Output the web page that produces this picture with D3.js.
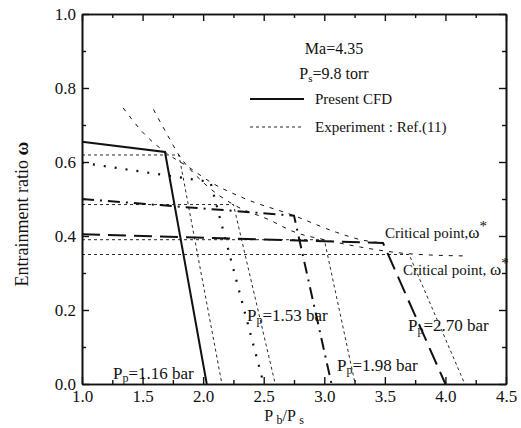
<!DOCTYPE html>
<html><head><meta charset="utf-8">
<script src="https://cdn.jsdelivr.net/npm/d3@7"></script>
<style>body{margin:0;background:#fff} svg{display:block}</style>
</head>
<body><svg id="c" width="521" height="428"></svg>
<script>
// ---- data ----
const X_TICKS = [1.0, 1.5, 2.0, 2.5, 3.0, 3.5, 4.0, 4.5];
const X_MINOR = [1.25, 1.75, 2.25, 2.75, 3.25, 3.75, 4.25];
const Y_TICKS = [0.0, 0.2, 0.4, 0.6, 0.8, 1.0];
const Y_MINOR = [0.1, 0.3, 0.5, 0.7, 0.9];

// Present CFD curves [Pb/Ps, omega]
const cfd116 = [[1.0, 0.655], [1.685, 0.627], [2.03, 0.0]];
const cfd153 = [[1.0, 0.598], [2.06, 0.546], [2.50, 0.0]];
const cfd198 = [[1.0, 0.500], [2.75, 0.455], [3.06, 0.0]];
const cfd270 = [[1.0, 0.405], [3.485, 0.381], [4.00, 0.0]];

// Experiment Ref.(11)
const exp116 = [[1.0, 0.619], [1.80, 0.619], [2.155, 0.0]];
const exp153 = [[1.0, 0.485], [2.25, 0.485], [2.595, 0.0]];
const exp198 = [[1.0, 0.390], [3.00, 0.390], [3.255, 0.0]];
const exp270 = [[1.0, 0.350], [3.70, 0.350], [4.16, 0.0]];

// critical point lines
const critCfd = [[1.34, 0.746], [1.50, 0.681], [1.685, 0.627], [1.89, 0.584], [2.06, 0.546],
                 [2.33, 0.503], [2.75, 0.455], [3.10, 0.410], [3.30, 0.390], [3.485, 0.381]];
const critExp = [[1.59, 0.742], [1.70, 0.676], [1.80, 0.619], [2.00, 0.545], [2.25, 0.485],
                 [2.55, 0.443], [2.76, 0.410], [3.00, 0.390], [3.30, 0.370], [3.70, 0.352],
                 [4.17, 0.346]];

const PP_LABELS = ["=1.16 bar", "=1.53 bar", "=1.98 bar", "=2.70 bar"];

// ---- drawing ----
const FONT = "Liberation Serif";
const svg = d3.select("#c");
const L = 82, R = 506, T = 14, B = 384;
const x = d3.scaleLinear([1, 4.5], [L, R]);
const y = d3.scaleLinear([0, 1], [B, T]);
const line = d3.line().x(d => x(d[0])).y(d => y(d[1]));
const smooth = d3.line().x(d => x(d[0])).y(d => y(d[1])).curve(d3.curveMonotoneX);

const plot = svg.append("g");
function draw(data, w, dash, gen) {
  plot.append("path").attr("d", (gen || line)(data)).attr("fill", "none")
    .attr("stroke", "#111").attr("stroke-width", w)
    .attr("stroke-dasharray", dash || null);
}
// experiment
[exp116, exp153, exp198, exp270].forEach(d => draw(d, 0.9, "3,3"));
draw(critCfd, 1, "4,6", smooth);
draw(critExp, 1, "4,6", smooth);
// CFD
draw(cfd116, 2, null);
draw(cfd153, 2.2, "2,9");
draw(cfd198, 2, "12,6,2,6");
draw(cfd270, 2, "18,8");

// axes
function axes() {
  const fmt = d3.format(".1f");
  const gb = svg.append("g").attr("transform", `translate(0,${B})`);
  gb.call(d3.axisBottom(x).tickValues(X_TICKS).tickFormat(fmt).tickSizeInner(-7).tickSizeOuter(0).tickPadding(6));
  gb.append("g").call(d3.axisBottom(x).tickValues(X_MINOR).tickFormat("").tickSizeInner(-4).tickSizeOuter(0));
  const gt = svg.append("g").attr("transform", `translate(0,${T})`);
  gt.call(d3.axisTop(x).tickValues(X_TICKS).tickFormat("").tickSizeInner(-7).tickSizeOuter(0));
  gt.append("g").call(d3.axisTop(x).tickValues(X_MINOR).tickFormat("").tickSizeInner(-4).tickSizeOuter(0));
  const gl = svg.append("g").attr("transform", `translate(${L},0)`);
  gl.call(d3.axisLeft(y).tickValues(Y_TICKS).tickFormat(fmt).tickSizeInner(-7).tickSizeOuter(0).tickPadding(6));
  gl.append("g").call(d3.axisLeft(y).tickValues(Y_MINOR).tickFormat("").tickSizeInner(-4).tickSizeOuter(0));
  const gr = svg.append("g").attr("transform", `translate(${R},0)`);
  gr.call(d3.axisRight(y).tickValues(Y_TICKS).tickFormat("").tickSizeInner(-7).tickSizeOuter(0));
  gr.append("g").call(d3.axisRight(y).tickValues(Y_MINOR).tickFormat("").tickSizeInner(-4).tickSizeOuter(0));
  svg.selectAll("g").attr("font-family", FONT).attr("font-size", 17);
  svg.selectAll(".domain").attr("stroke", "#111").attr("stroke-width", 1.6);
  svg.selectAll(".tick line").attr("stroke", "#111").attr("stroke-width", 1.4);
  svg.selectAll(".tick text").attr("font-family", FONT).attr("font-size", 17).attr("fill", "#111");
}
axes();

function txt(xp, yp, size) {
  return svg.append("text").attr("x", xp).attr("y", yp).attr("font-size", size)
    .attr("font-family", FONT).attr("fill", "#111");
}

// axis titles
const yt = svg.append("text").attr("transform", "translate(28,214) rotate(-90)")
  .attr("text-anchor", "middle").attr("font-size", 18).attr("font-family", FONT).attr("fill", "#111");
yt.append("tspan").text("Entrainment ratio ");
yt.append("tspan").attr("font-weight", "bold").attr("font-size", 19).text("ω");

const xt = txt(284, 421, 16).attr("text-anchor", "middle");
xt.append("tspan").text("P ");
xt.append("tspan").attr("font-size", 12).attr("dy", 3).text("b");
xt.append("tspan").attr("dy", -3).text("/P ");
xt.append("tspan").attr("font-size", 12).attr("dy", 3).text("s");

// header text
txt(334, 54, 16).attr("text-anchor", "middle").text("Ma=4.35");
const ps = txt(334, 79, 16).attr("text-anchor", "middle");
ps.append("tspan").text("P");
ps.append("tspan").attr("font-size", 11).attr("dy", 3).text("s");
ps.append("tspan").attr("dy", -3).text("=9.8 torr");

// legend
svg.append("line").attr("x1", 250).attr("x2", 304).attr("y1", 99).attr("y2", 99).attr("stroke", "#111").attr("stroke-width", 2);
txt(315, 104, 15).text("Present CFD");
svg.append("line").attr("x1", 250).attr("x2", 304).attr("y1", 127).attr("y2", 127).attr("stroke", "#111").attr("stroke-width", 0.9).attr("stroke-dasharray", "3,3");
txt(315, 132, 15).text("Experiment : Ref.(11)");

// critical point labels
function crit(xp, yp, sp) {
  const t = txt(xp, yp, 15);
  t.append("tspan").text("Critical point," + sp);
  t.append("tspan").attr("font-size", 17).text("ω");
  t.append("tspan").attr("font-size", 15).attr("dy", -7).text("*");
}
crit(385, 238, "");
crit(403, 275, " ");

// Pp labels
function pp(xp, yp, s) {
  const t = txt(xp, yp, 17);
  t.append("tspan").text("P");
  t.append("tspan").attr("font-size", 12).attr("dy", 3).text("p");
  t.append("tspan").attr("dy", -3).text(s);
}
pp(113, 379, PP_LABELS[0]);
pp(247, 321, PP_LABELS[1]);
pp(337, 371, PP_LABELS[2]);
pp(408, 331, PP_LABELS[3]);
</script></body></html>
